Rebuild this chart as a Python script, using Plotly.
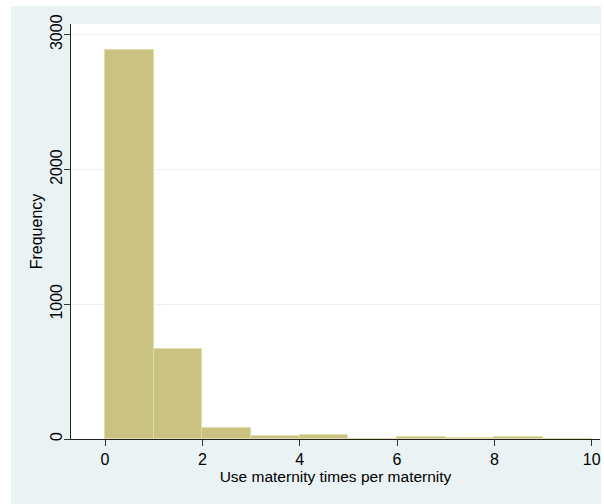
import plotly.graph_objects as go

# Histogram data: bin edges 0..10, width 1
bin_left = [0, 1, 2, 3, 4, 5, 6, 7, 8, 9]
bin_width = 1
counts = [2886, 665, 85, 20, 32, 3, 15, 10, 15, 3]
x_ticks = [0, 2, 4, 6, 8, 10]
y_ticks = [0, 1000, 2000, 3000]

x_title = "Use maternity times per maternity"
y_title = "Frequency"

FONT = "Liberation Sans, Arial, sans-serif"
BG = "#eaf2f3"

fig = go.Figure()
fig.add_trace(go.Bar(
    x=[b + bin_width / 2 for b in bin_left],
    y=counts,
    width=[bin_width] * len(bin_left),
    marker=dict(color="rgb(201,194,129)",
                line=dict(color="rgb(224,220,172)", width=1)),
    showlegend=False,
    hoverinfo="x+y",
))

W, H = 604, 504
L, R, T, B = 71, 4, 24, 65
pw = W - L - R
ph = H - T - B

def px(x):
    return (x - L) / pw

def py(y):
    return (H - B - y) / ph

white = dict(color="white", width=0)
fig.update_layout(
    width=W, height=H,
    margin=dict(l=L, r=R, t=T, b=B, pad=0),
    paper_bgcolor=BG,
    plot_bgcolor="white",
    font=dict(family=FONT, size=16, color="black"),
    bargap=0,
    shapes=[
        # white page border around the light background (left, top, right)
        dict(type="rect", xref="paper", yref="paper",
             x0=px(0), x1=px(11), y0=py(H), y1=py(0),
             fillcolor="white", line=dict(width=0), layer="below"),
        dict(type="rect", xref="paper", yref="paper",
             x0=px(0), x1=px(W), y0=py(6), y1=py(0),
             fillcolor="white", line=dict(width=0), layer="below"),
        dict(type="rect", xref="paper", yref="paper",
             x0=px(601), x1=px(W), y0=py(H), y1=py(0),
             fillcolor="white", line=dict(width=0), layer="below"),
    ],
)

fig.update_xaxes(
    range=[-0.7, 10.17],
    tickvals=x_ticks,
    ticktext=[str(v) for v in x_ticks],
    ticks="outside", ticklen=6, tickwidth=1, tickcolor="#333",
    showline=True, linecolor="#222", linewidth=1,
    showgrid=False, zeroline=False,
    tickfont=dict(size=16),
    title=dict(text=x_title, font=dict(size=15.5), standoff=0),
)
fig.update_yaxes(
    range=[0, 3079],
    tickvals=y_ticks,
    ticktext=[str(v) for v in y_ticks],
    tickangle=-90,
    ticklabelstandoff=-4,
    ticks="outside", ticklen=6, tickwidth=1, tickcolor="#333",
    showline=True, linecolor="#222", linewidth=1,
    showgrid=True, gridcolor=BG, gridwidth=1,
    zeroline=False,
    tickfont=dict(size=16),
    title=dict(text=y_title, font=dict(size=16), standoff=0),
)

fig.write_html("out.html")
